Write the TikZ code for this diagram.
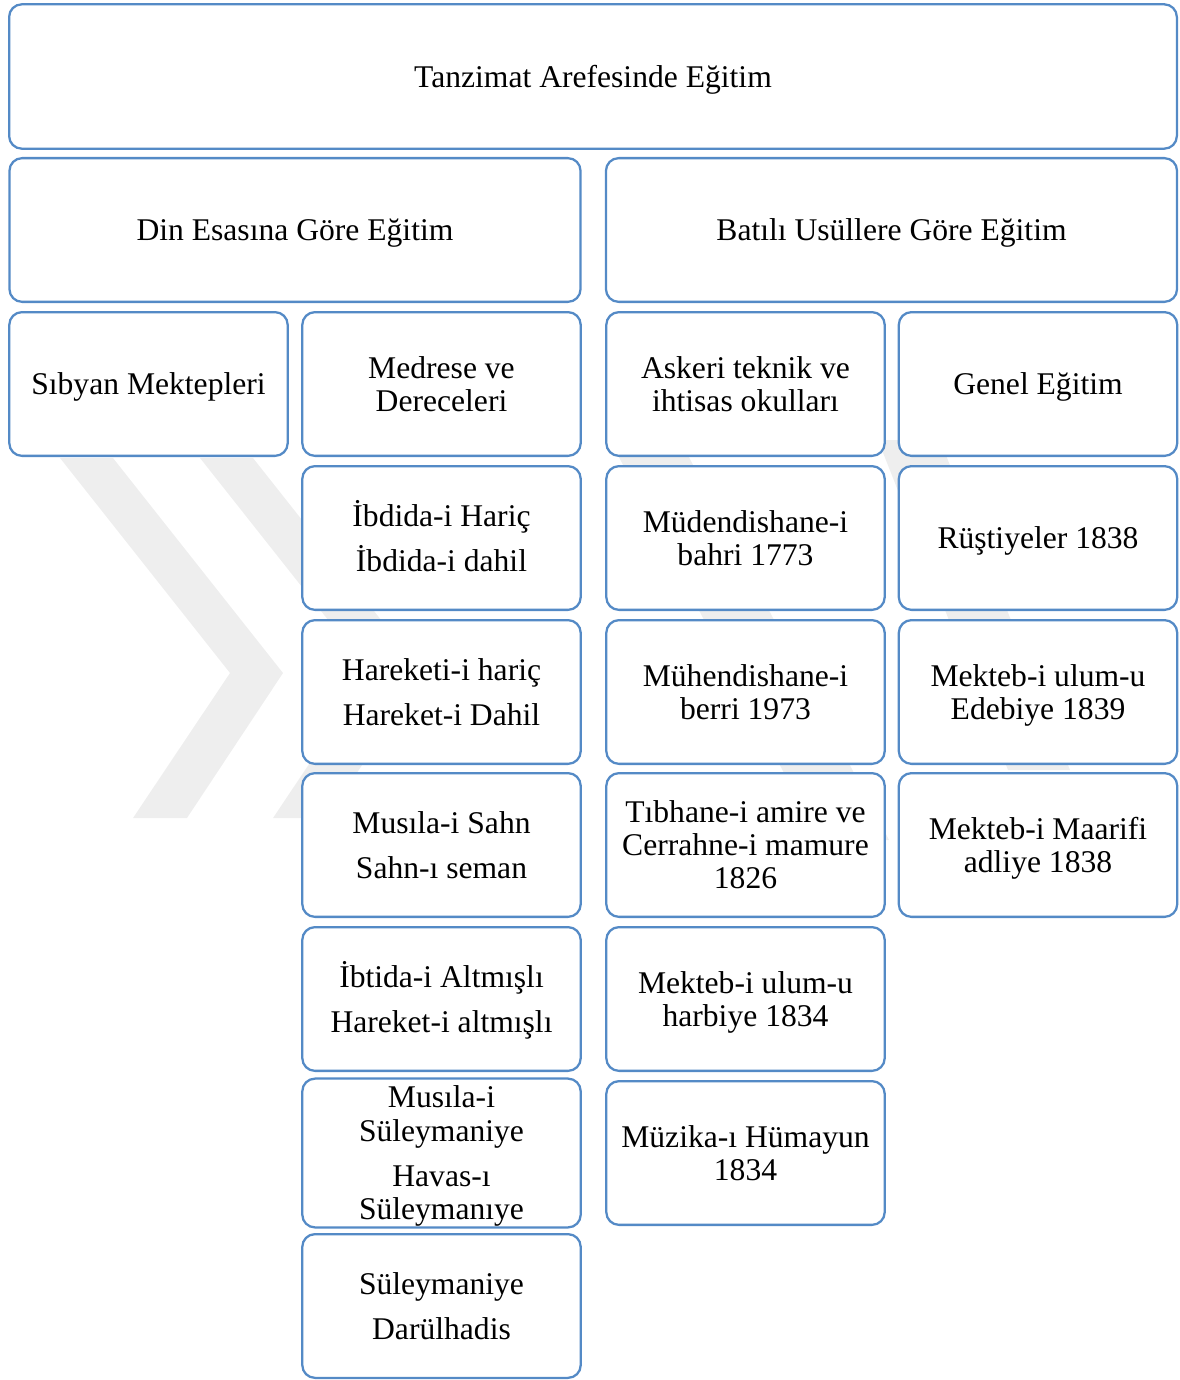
\documentclass[tikz,border=0pt]{standalone}
\usepackage{fontspec}
\setmainfont{Liberation Serif}
\definecolor{kutumavi}{RGB}{84,138,198}
\definecolor{filigran}{RGB}{238,238,238}
\tikzset{
  kutu/.style={draw=kutumavi, line width=1.7pt, rounded corners=9.5pt, fill=white,
    align=flush center, inner sep=0pt, minimum height=107.8pt,
    font=\fontsize{23.7}{24.8}\selectfont,
    execute at begin node={\rule{0pt}{22pt}},
    execute at end node={\rule[-6.2pt]{0pt}{0pt}}},
  genis/.style={kutu, text width=860pt, minimum width=875.8pt, minimum height=108.3pt},
  yarim/.style={kutu, text width=420pt, minimum width=428.3pt},
  dar/.style={kutu, text width=205pt, minimum width=208.8pt},
}
\begin{document}
\begin{tikzpicture}[x=0.75pt,y=-0.75pt]
                \useasboundingbox (0,0) rectangle (1180,1380);
                % watermark in the background
                \foreach \d in {0,140}
                  \fill[filigran] ({60+\d},458) -- ({113+\d},458) -- ({283+\d},673) -- ({187+\d},818) -- ({133+\d},818) -- ({230+\d},673) -- cycle;
                \fill[filigran] (610,440) -- (680,440) -- (889,840) -- (819,840) -- cycle;
                \fill[filigran] (878,440) -- (940,440) -- (1070,770) -- (1008,770) -- cycle;
                \node[genis] (tanzimat) at (593,76.5) {Tanzimat Arefesinde Eğitim};
                \node[yarim] (din) at (295,230) {Din Esasına Göre Eğitim};
                \node[yarim] (batili) at (891.5,230) {Batılı Usüllere Göre Eğitim};
                % first row of columns
                \node[dar] (sibyan) at (148.5,384) {Sıbyan Mektepleri};
                \node[dar] (medrese) at (441.5,384) {Medrese ve\\Dereceleri};
                \node[dar] (askeri) at (745.5,384) {Askeri teknik ve\\ihtisas okulları};
                \node[dar] (genel) at (1038,384) {Genel Eğitim};
                % medrese column
                \node[dar] (ibdida) at (441.5,538) {İbdida-i Hariç\\[9pt]İbdida-i dahil};
                \node[dar] (hareket) at (441.5,692) {Hareketi-i hariç\\[9pt]Hareket-i Dahil};
                \node[dar] (sahn) at (441.5,845) {Musıla-i Sahn\\[9pt]Sahn-ı seman};
                \node[dar] (altmisli) at (441.5,999) {İbtida-i Altmışlı\\[9pt]Hareket-i altmışlı};
                \node[dar] (suleymaniye) at (441.5,1153) {Musıla-i\\Süleymaniye\\[9pt]Havas-ı\\Süleymanıye};
                \node[dar] (darulhadis) at (441.5,1306) {Süleymaniye\\[9pt]Darülhadis};
                % askeri column
                \node[dar] (bahri) at (745.5,538) {Müdendishane-i\\bahri 1773};
                \node[dar] (berri) at (745.5,692) {Mühendishane-i\\berri 1973};
                \node[dar] (tibhane) at (745.5,845) {Tıbhane-i amire ve\\Cerrahne-i mamure\\1826};
                \node[dar] (harbiye) at (745.5,999) {Mekteb-i ulum-u\\harbiye 1834};
                \node[dar] (muzika) at (745.5,1153) {Müzika-ı Hümayun\\1834};
                % genel column
                \node[dar] (rustiye) at (1038,538) {Rüştiyeler 1838};
                \node[dar] (edebiye) at (1038,692) {Mekteb-i ulum-u\\Edebiye 1839};
                \node[dar] (maarif) at (1038,845) {Mekteb-i Maarifi\\adliye 1838};
\end{tikzpicture}
\end{document}
